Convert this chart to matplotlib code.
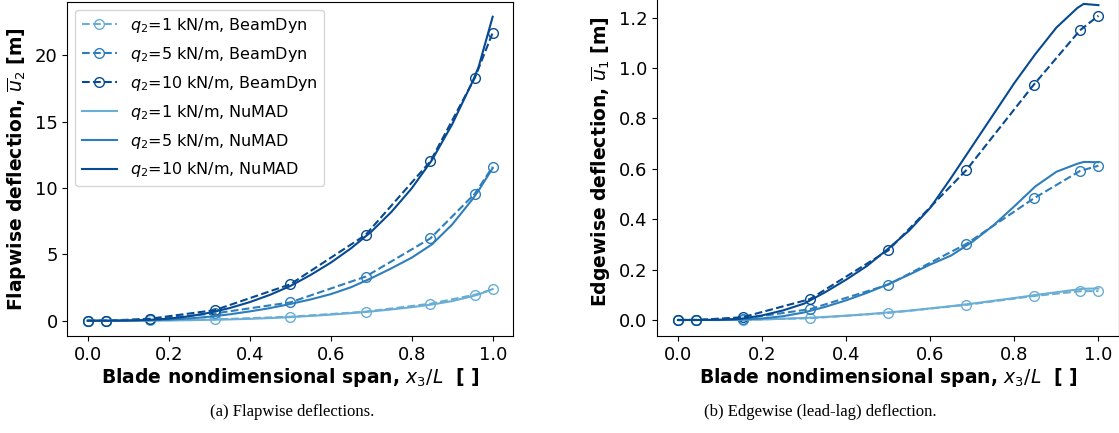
import numpy as np
import matplotlib
matplotlib.use("Agg")
import matplotlib.pyplot as plt

# BeamDyn nodes along the span
x_bd = [0.0, 0.044, 0.154, 0.314, 0.5, 0.686, 0.846, 0.956, 1.0]
# NuMAD stations
x_nm = [0.0, 0.05, 0.1, 0.15, 0.2, 0.25, 0.3, 0.35, 0.4, 0.45, 0.5,
        0.55, 0.6, 0.65, 0.7, 0.75, 0.8, 0.85, 0.9, 0.95, 0.965, 1.0]

loads = [1, 5, 10]

# flapwise deflection u2 [m]
flap_bd_q1 = [0.0, 0.0, 0.02, 0.1, 0.3, 0.68, 1.28, 1.96, 2.36]
flap_bd_q5 = [0.0, 0.0, 0.1, 0.55, 1.38, 3.32, 6.2, 9.57, 11.6]
flap_bd_q10 = [0.0, 0.0, 0.15, 0.8, 2.74, 6.46, 12.0, 18.3, 21.7]
flap_nm_q1 = [0.0, 0.0, 0.003, 0.01, 0.02, 0.04, 0.07, 0.1, 0.14, 0.2, 0.27,
              0.36, 0.46, 0.57, 0.7, 0.85, 1.02, 1.22, 1.48, 1.85, 1.98, 2.38]
flap_nm_q5 = [0.0, 0.0, 0.01, 0.03, 0.08, 0.17, 0.3, 0.48, 0.7, 0.95, 1.26,
              1.6, 2.0, 2.52, 3.2, 3.95, 4.75, 5.75, 7.25, 9.15, 9.8, 11.5]
flap_nm_q10 = [0.0, 0.0, 0.02, 0.06, 0.16, 0.33, 0.6, 0.95, 1.4, 1.95, 2.61,
               3.44, 4.37, 5.45, 6.7, 8.2, 9.97, 12.1, 14.8, 18.0, 19.1, 22.9]

# edgewise deflection u1 [m]
edge_bd_q1 = [0.0, 0.0, 0.001, 0.007, 0.028, 0.06, 0.095, 0.114, 0.115]
edge_bd_q5 = [0.0, 0.0, 0.005, 0.043, 0.14, 0.302, 0.482, 0.591, 0.612]
edge_bd_q10 = [0.0, 0.0, 0.011, 0.083, 0.276, 0.595, 0.933, 1.149, 1.207]
edge_nm_q1 = [0.0, 0.0, 0.0, 0.0, 0.002, 0.005, 0.008, 0.012, 0.017, 0.023, 0.03,
              0.037, 0.046, 0.055, 0.065, 0.076, 0.087, 0.099, 0.11, 0.121, 0.124, 0.125]
edge_nm_q5 = [0.0, 0.0, 0.0, 0.002, 0.006, 0.015, 0.03, 0.052, 0.078, 0.108, 0.142,
              0.18, 0.22, 0.256, 0.31, 0.375, 0.451, 0.53, 0.588, 0.62, 0.627, 0.626]
edge_nm_q10 = [0.0, 0.0, 0.001, 0.005, 0.018, 0.038, 0.065, 0.11, 0.16, 0.215, 0.283,
               0.355, 0.445, 0.565, 0.69, 0.815, 0.94, 1.055, 1.16, 1.238, 1.254, 1.249]

colors = [plt.cm.Blues(0.5), plt.cm.Blues(0.7), plt.cm.Blues(0.9)]

plt.rcParams['font.family'] = 'DejaVu Sans'
plt.rcParams['mathtext.fontset'] = 'dejavusans'

fig = plt.figure(figsize=(11.19, 4.33), dpi=100)
ax1 = fig.add_axes([0.0603, 0.2242, 0.3981, 0.7723])
ax2 = fig.add_axes([0.5871, 0.2245, 0.4133, 0.803])


def draw(ax, bd, nm, ylabel):
    for q, y, c in zip(loads, bd, colors):
        ax.plot(x_bd, y, '--o', color=c, mfc='none', ms=7, lw=1.5,
                label=r'$q_2$=%d kN/m, BeamDyn' % q)
    for q, y, c in zip(loads, nm, colors):
        ax.plot(x_nm, y, '-', color=c, lw=1.5,
                label=r'$q_2$=%d kN/m, NuMAD' % q)
    ax.set_xlabel(r'Blade nondimensional span, $x_3/L$  [ ]',
                  fontsize=13.5, fontweight='bold', labelpad=2)
    ax.set_ylabel(ylabel, fontsize=13.5, fontweight='bold', labelpad=4)
    ax.tick_params(labelsize=13)
    ax.set_xticks([0.0, 0.2, 0.4, 0.6, 0.8, 1.0])


draw(ax1, [flap_bd_q1, flap_bd_q5, flap_bd_q10],
     [flap_nm_q1, flap_nm_q5, flap_nm_q10],
     r'Flapwise deflection, $\overline{u}_2$ [m]')
ax1.set_yticks([0, 5, 10, 15, 20])
ax1.legend(loc='upper left', fontsize=11.5, handlelength=2.2, labelspacing=0.62)

draw(ax2, [edge_bd_q1, edge_bd_q5, edge_bd_q10],
     [edge_nm_q1, edge_nm_q5, edge_nm_q10],
     r'Edgewise deflection, $\overline{u}_1$ [m]')
ax2.set_yticks([0.0, 0.2, 0.4, 0.6, 0.8, 1.0, 1.2])

fig.text(0.261, 0.048, '(a) Flapwise deflections.', ha='center', va='center',
         family='Liberation Serif', fontsize=12)
fig.text(0.733, 0.048, '(b) Edgewise (lead-lag) deflection.', ha='center', va='center',
         family='Liberation Serif', fontsize=12)

fig.savefig('out.png', dpi=100)
